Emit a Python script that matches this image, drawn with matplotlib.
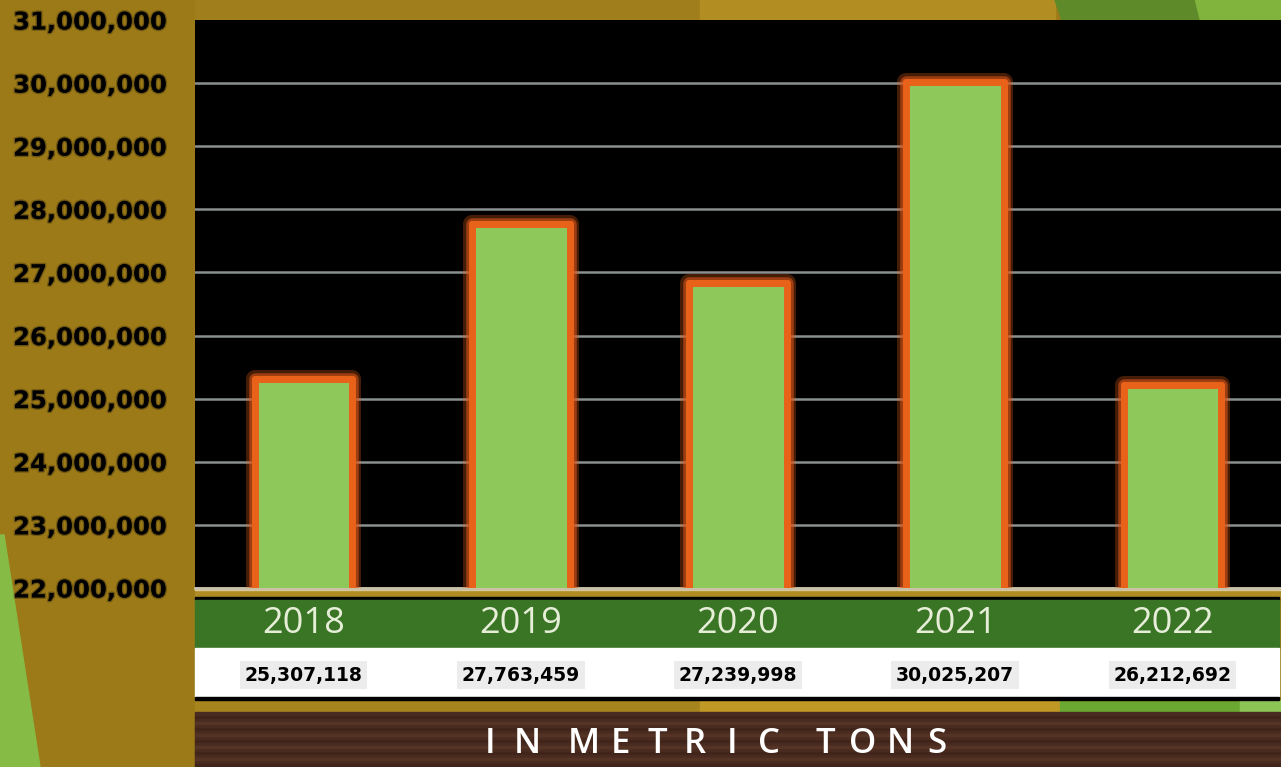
"""Annual production bar chart, 2018-2022 (in metric tons)."""

import matplotlib
matplotlib.use("Agg")
import matplotlib.pyplot as plt
import matplotlib.patheffects as pe
from matplotlib.patches import Rectangle, Polygon
from matplotlib.ticker import FuncFormatter
from matplotlib.transforms import blended_transform_factory
import numpy as np


years = ["2018", "2019", "2020", "2021", "2022"]
# bar heights as drawn in the picture
bar_values = [25_310_000, 27_765_000, 26_830_000, 30_025_000, 25_210_000]
# numbers printed in the white table row
table_labels = ["25,307,118", "27,763,459", "27,239,998", "30,025,207", "26,212,692"]
y_ticks = np.arange(22_000_000, 31_000_001, 1_000_000)
unit_text = "IN METRIC TONS"

W, H = 1281, 767
GOLD = "#9c7a17"
BAR_GREEN = "#8fc85a"
BAR_EDGE = "#e8621a"
BAND_GREEN = "#3a7526"
WOOD = "#4a2b1f"


def fx(px):
    return px / W


def fy(py):
    # pixel row from the top -> figure fraction
    return 1 - py / H


def rect(x0, y0, x1, y1, color, **kw):
    # rectangle given by pixel corners (top-left, bottom-right)
    return Rectangle((fx(x0), fy(y1)), fx(x1 - x0), fy(y0) - fy(y1), color=color, **kw)


fig = plt.figure(figsize=(W / 100, H / 100), dpi=100, facecolor=GOLD)

# background decoration (kept below the axes)
deco = [
    Polygon([(fx(0), fy(535)), (fx(4), fy(535)), (fx(40), fy(767)), (fx(0), fy(767))], color="#86bb45"),
    rect(195, 0, 700, 20, "#a07e1c"),
    rect(700, 0, 1055, 20, "#b28e22"),
    Polygon([(fx(1055), fy(0)), (fx(1195), fy(0)), (fx(1200), fy(20)), (fx(1062), fy(20))], color="#5f8a29"),
    Polygon([(fx(1195), fy(0)), (fx(1281), fy(0)), (fx(1281), fy(20)), (fx(1200), fy(20))], color="#80b43c"),
    rect(195, 588, 1281, 597, "#b08c25"),
    rect(195, 588, 1281, 590, "#d8c79a"),
    rect(195, 700, 1281, 712, "#a8841e"),
    rect(700, 700, 1060, 712, "#bf9826"),
    rect(1060, 700, 1281, 712, "#6aa832"),
    rect(1240, 700, 1281, 712, "#8cc456"),
    rect(195, 597, 1279, 600, "black"),
    rect(195, 600, 1279, 648, BAND_GREEN),
    rect(195, 648, 1279, 697, "white"),
    rect(195, 697, 1279, 700, "black"),
    rect(195, 712, 1281, 767, WOOD),
]
# a few wood grain streaks
for i, row in enumerate(range(716, 767, 6)):
    shade = "#5a3728" if i % 2 else "#3e2319"
    deco.append(rect(195, row, 1281, row + 2, shade, alpha=0.6))
for p in deco:
    p.set_transform(fig.transFigure)
    p.set_zorder(-5)
    fig.add_artist(p)

ax = fig.add_axes([fx(195), fy(588), fx(1086), fy(20) - fy(588)])
ax.set_facecolor("black")

x = np.arange(len(years))
bars = ax.bar(x, bar_values, width=0.45, color=BAR_GREEN, edgecolor=BAR_EDGE,
              linewidth=5, joinstyle="round", zorder=3)
for b in bars:
    b.set_path_effects([pe.withStroke(linewidth=13, foreground=BAR_EDGE, alpha=0.3),
                        pe.withStroke(linewidth=9, foreground="#d9531a", alpha=0.6),
                        pe.Normal()])

ax.set_xlim(-0.5, len(years) - 0.5)
ax.set_ylim(y_ticks[0], y_ticks[-1])
ax.set_yticks(y_ticks)
ax.yaxis.set_major_formatter(FuncFormatter(lambda v, _: f"{int(v):,}"))
ax.grid(axis="y", color="#8a8f90", linewidth=1.8, zorder=1)
ax.yaxis.get_gridlines()[-1].set_visible(False)  # no line along the top edge
ax.set_xticks([])
ax.tick_params(axis="y", length=0, pad=21)
for lab in ax.get_yticklabels():
    lab.set_fontfamily("DejaVu Sans")
    lab.set_fontweight("bold")
    lab.set_fontsize(17.5)
    lab.set_color("black")
    lab.set_path_effects([pe.withStroke(linewidth=2, foreground="#4a3a10", alpha=0.5)])
for side in ["top", "right", "left"]:
    ax.spines[side].set_visible(False)
ax.spines["bottom"].set_color("#c8c0a8")
ax.spines["bottom"].set_linewidth(2)

# year and value rows under the plot
trans = blended_transform_factory(ax.transData, fig.transFigure)
for xi, yr, lab in zip(x, years, table_labels):
    ax.text(xi, fy(624), yr, transform=trans, ha="center", va="center",
            color="#e6eed8", fontsize=26, family="Open Sans", clip_on=False)
    ax.text(xi, fy(675), lab, transform=trans,
            ha="center", va="center", color="black", fontsize=13.5, fontweight="bold",
            family="DejaVu Sans", clip_on=False,
            bbox=dict(boxstyle="square,pad=0.25", facecolor="#ececec", edgecolor="none"))

# widely spaced caption, one letter at a time
cx = 490
for ch in unit_text:
    if ch == " ":
        cx += 19
        continue
    fig.text(fx(cx), fy(744), ch, ha="center", va="center",
             color="white", fontsize=25, family="Open Sans", fontweight="semibold")
    cx += 37.2

fig.savefig("out.png", dpi=100, facecolor=fig.get_facecolor())
